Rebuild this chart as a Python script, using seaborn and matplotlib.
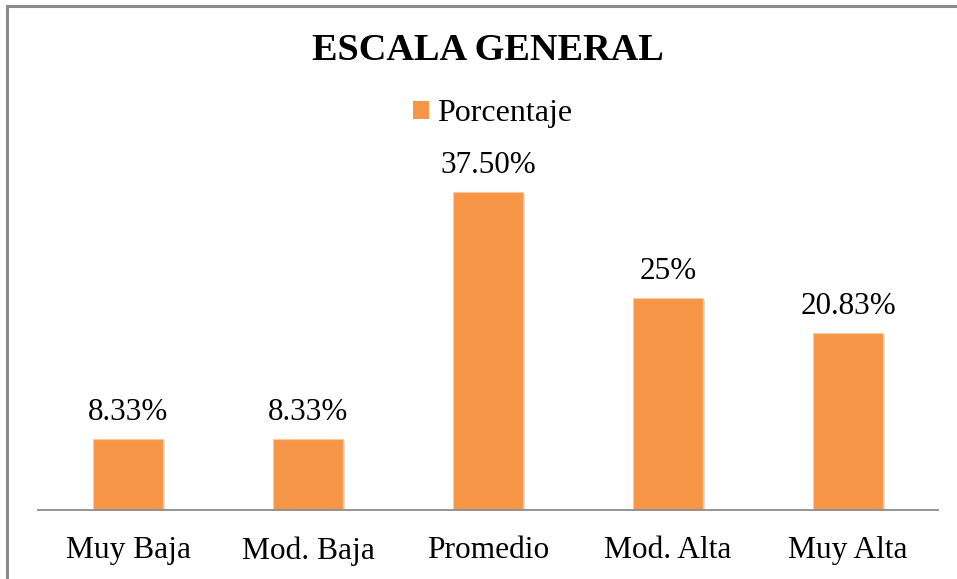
import matplotlib
matplotlib.use("Agg")
import matplotlib.pyplot as plt
import seaborn as sns
import pandas as pd
from matplotlib.patches import Rectangle, Patch
import matplotlib.patheffects as pe

categories = ["Muy Baja", "Mod. Baja", "Promedio", "Mod. Alta", "Muy Alta"]
values = [8.33, 8.33, 37.50, 25.0, 20.83]
labels = ["8.33%", "8.33%", "37.50%", "25%", "20.83%"]
series_name = "Porcentaje"
title = "ESCALA GENERAL"

df = pd.DataFrame({"cat": categories, "val": values})

sns.set_theme(style="white")
plt.rcParams["font.family"] = ["Liberation Serif", "DejaVu Serif"]

W, H = 957, 579
fig = plt.figure(figsize=(W / 100, H / 100), dpi=100)
fig.patch.set_facecolor("white")

left, right, base, top = 38, 938, 510, 171
ax = fig.add_axes([left / W, (H - base) / H, (right - left) / W, (base - top) / H])

color = "#F79646"
sns.barplot(data=df, x="cat", y="val", color=color, width=0.39, ax=ax,
            saturation=1, edgecolor="#FBC9A3", linewidth=0.8)
for p in ax.patches:
    p.set_path_effects([pe.SimplePatchShadow(offset=(1.5, -1), shadow_rgbFace="#BBBBBB", alpha=0.5), pe.Normal()])

ax.set_ylim(0, 40)
ax.set_xlim(-0.5, len(categories) - 0.5)
ax.set_xlabel("")
ax.set_ylabel("")
ax.set_yticks([])
for s in ["top", "right", "left"]:
    ax.spines[s].set_visible(False)
ax.spines["bottom"].set_color("#8C8C8C")
ax.spines["bottom"].set_linewidth(1.3)
ax.tick_params(axis="x", length=0, pad=19, labelsize=22.6, colors="black")
ax.set_facecolor("none")

for i, (v, lab) in enumerate(zip(values, labels)):
    ax.annotate(lab, (i, v), xytext=(0, 9), textcoords="offset points",
                ha="center", va="bottom", fontsize=22.4, color="black", clip_on=False)

fig.text(488 / W, 1 - 50 / H, title, ha="center", va="center",
         fontsize=27.5, fontweight="bold", color="black")

leg = fig.legend(handles=[Patch(facecolor=color, edgecolor="none", label=series_name)],
                 loc="center", bbox_to_anchor=(493 / W, 1 - 114 / H), frameon=False,
                 fontsize=23, handlelength=0.5, handleheight=0.5, handletextpad=0.25)
for t in leg.get_texts():
    t.set_color("black")

fig.add_artist(Rectangle((7.5 / W, -0.05), 1.2, 1 - 6 / H + 0.05, transform=fig.transFigure,
                         fill=False, edgecolor="#8C8C8C", linewidth=2.2))

fig.savefig("out.png", dpi=100, facecolor="white")
